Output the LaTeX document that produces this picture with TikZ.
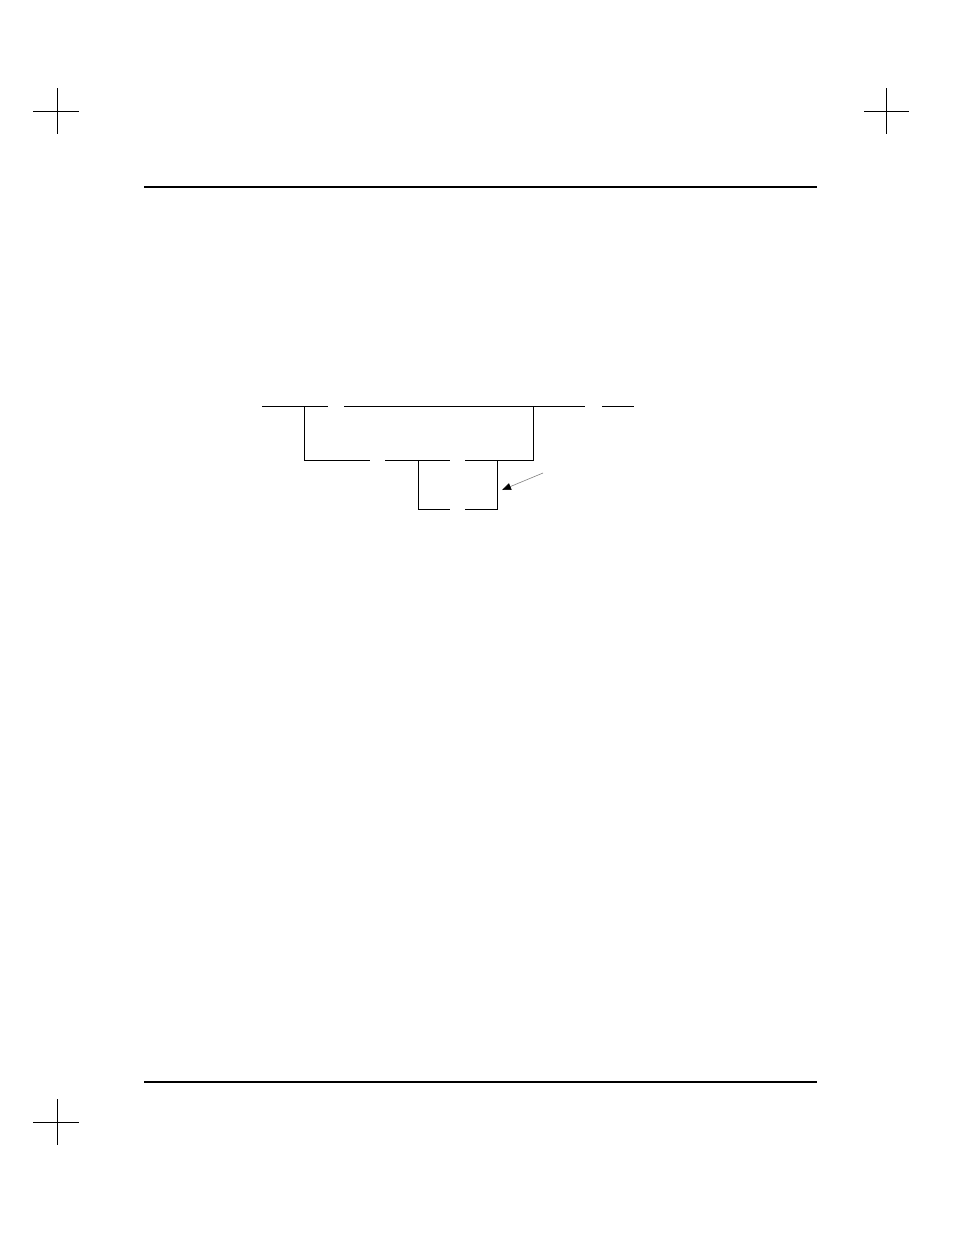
\documentclass[tikz,border=0pt]{standalone}
\usepackage{tikz}
\usetikzlibrary{
    arrows.meta,
    calc
}
\tikzset{
    every picture/.style = {
        > = Stealth,
        line cap = butt
    },
    rung/.style = {
        line width = 1pt,
        black
    },
    cropmark/.style = {
        line width = 0.8pt,
        black
    },
    pointer/.style = {
        line width = 0.6pt,
        gray,
        -{Triangle[length = 9pt, width = 7pt, black]}
    }
}

\begin{document}
\begin{tikzpicture}[x = 1pt, y = -1pt]

                        \useasboundingbox (0, 0) rectangle (954, 1235);

                        % crop marks
                        \draw[cropmark] (33, 111) -- (79, 111);
                        \draw[cropmark] (57, 88) -- (57, 134);
                        \draw[cropmark] (864, 111) -- (909, 111);
                        \draw[cropmark] (886, 88) -- (886, 134);
                        \draw[cropmark] (33, 1122) -- (79, 1122);
                        \draw[cropmark] (57, 1099) -- (57, 1145);

                        % page rules
                        \draw[line width = 2.5pt] (144, 187) -- (817, 187);
                        \draw[line width = 1.1pt] (144, 1082) -- (817, 1082);

                        % top rung
                        \coordinate (L0) at (262, 406);
                        \coordinate (j1) at (304, 406);
                        \coordinate (c1l) at (328, 406);
                        \coordinate (c1r) at (344, 406);
                        \coordinate (j2) at (533, 406);
                        \coordinate (c2l) at (585, 406);
                        \coordinate (c2r) at (602, 406);
                        \coordinate (R0) at (634, 406);

                        % branch
                        \coordinate (b1) at (304, 460);
                        \coordinate (c3l) at (370, 460);
                        \coordinate (c3r) at (385, 460);
                        \coordinate (j3) at (418, 460);
                        \coordinate (c4l) at (450, 460);
                        \coordinate (c4r) at (465, 460);
                        \coordinate (j4) at (497, 460);
                        \coordinate (b2) at (533, 460);

                        % inner branch
                        \coordinate (d1) at (418, 509);
                        \coordinate (c5l) at (450, 509);
                        \coordinate (c5r) at (465, 509);
                        \coordinate (d2) at (497, 509);

                        \draw[rung] (L0) -- (c1l);
                        \draw[rung] (c1r) -- (c2l);
                        \draw[rung] (c2r) -- (R0);

                        \draw[rung] (j1) -- (b1) -- (c3l);
                        \draw[rung] (c3r) -- (c4l);
                        \draw[rung] (c4r) -- (b2) -- (j2);

                        \draw[rung] (j3) -- (d1) -- (c5l);
                        \draw[rung] (c5r) -- (d2) -- (j4);

                        % pointer
                        \coordinate (tail) at (543, 473);
                        \coordinate (tip) at (502, 490);
                        \draw[pointer] (tail) -- (tip);

                    \end{tikzpicture}
\end{document}
